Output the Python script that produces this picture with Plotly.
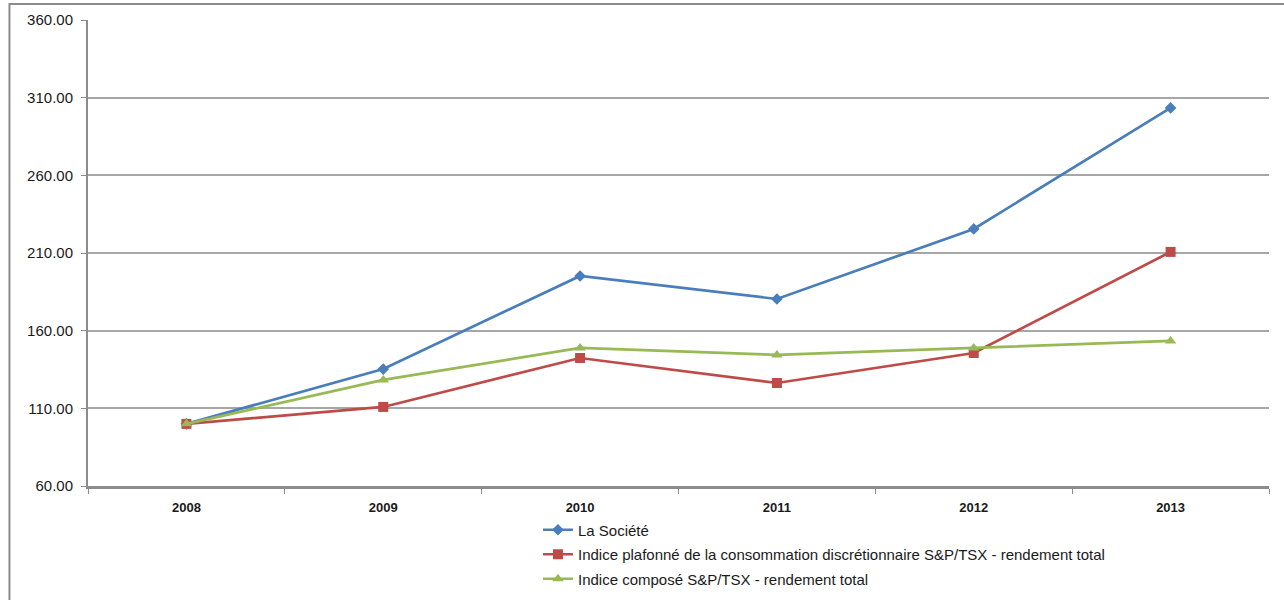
import plotly.graph_objects as go

years = ["2008", "2009", "2010", "2011", "2012", "2013"]
societe = [100.0, 135.3, 195.2, 180.4, 225.5, 303.4]
plafonne = [100.0, 110.9, 142.4, 126.3, 145.6, 210.7]
compose = [100.0, 128.3, 148.9, 144.4, 148.9, 153.4]
names = [
    "La Société",
    "Indice plafonné de la consommation discrétionnaire S&P/TSX - rendement total",
    "Indice composé S&P/TSX - rendement total",
]
y_ticks = [60, 110, 160, 210, 260, 310, 360]

fig = go.Figure()
series = [
    (societe, names[0], "#4A7EBB", "diamond", 9),
    (plafonne, names[1], "#BE4B48", "square", 10),
    (compose, names[2], "#98B954", "triangle-up", 10),
]
for i, (vals, nm, col, sym, sz) in enumerate(series):
    fig.add_trace(go.Scatter(
        x=years, y=vals, name=nm, mode="lines+markers",
        line=dict(color=col, width=2.7),
        marker=dict(symbol=sym, size=sz, color=col),
        legendgroup=f"g{i}",
    ))

fig.update_layout(
    width=1284, height=600,
    margin=dict(l=88, r=15, t=20, b=114, autoexpand=False),
    paper_bgcolor="white", plot_bgcolor="white",
    font=dict(family="Liberation Sans, Arial, sans-serif", size=15, color="#1a1a1a"),
    showlegend=True,
    legend=dict(
        x=0.381, y=-0.059, xanchor="left", yanchor="top",
        orientation="v", tracegroupgap=2,
        font=dict(size=15, color="#1a1a1a"),
        bgcolor="rgba(0,0,0,0)",
    ),
    xaxis=dict(
        type="category", range=[-0.5, 5.5],
        showgrid=False, showline=True, linecolor="#8c8c8c", linewidth=3,
        ticks="outside", tickson="boundaries", ticklen=5, tickcolor="#8c8c8c",
        tickfont=dict(size=13, color="#1a1a1a", weight="bold"),
        ticklabelstandoff=7,
    ),
    yaxis=dict(
        range=[60, 360], tickvals=y_ticks, tickformat=".2f",
        showgrid=True, gridcolor="#a6a6a6", gridwidth=1.5,
        showline=True, linecolor="#8c8c8c", linewidth=2,
        ticks="outside", ticklen=5, tickcolor="#8c8c8c",
        tickfont=dict(size=15, color="#1a1a1a"),
        ticklabelstandoff=5,
        zeroline=False,
    ),
)

fig.add_shape(
    type="rect", xref="paper", yref="paper",
    x0=-0.0665, x1=1.03, y0=-0.3, y1=1.0343,
    line=dict(color="#8c8c8c", width=2), fillcolor="rgba(0,0,0,0)",
    layer="below",
)

fig.write_html("out.html")
